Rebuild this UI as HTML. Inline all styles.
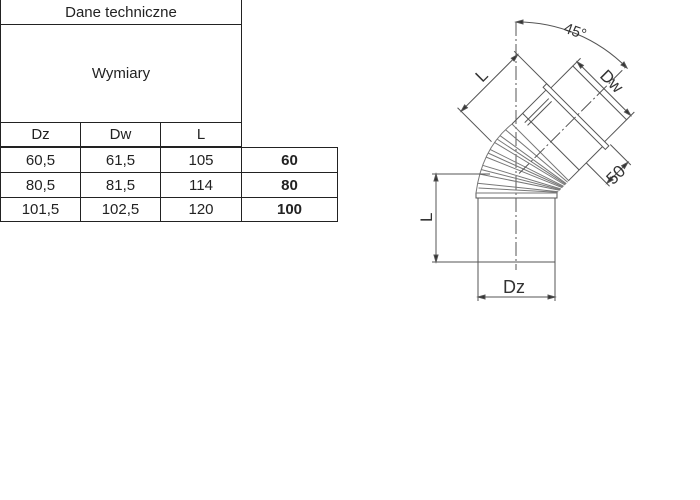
<!DOCTYPE html>
<html><head><style>
body{margin:0;background:#fff;width:700px;height:500px;overflow:hidden;position:relative;font-family:"Liberation Sans",Calibri,sans-serif}
.c{position:absolute;border:1px solid #222;box-sizing:border-box;display:flex;align-items:center;justify-content:center;font-size:15px;color:#222}
</style></head><body>
<div class="c" style="left:0;top:0;width:242px;height:25px;border-top:none">Dane techniczne</div>
<div class="c" style="left:0;top:24px;width:242px;height:99px">Wymiary</div>
<div class="c" style="left:0;top:122px;width:81px;height:25px">Dz</div>
<div class="c" style="left:80px;top:122px;width:81px;height:25px">Dw</div>
<div class="c" style="left:160px;top:122px;width:82px;height:25px">L</div>
<div class="c" style="left:0;top:147px;width:81px;height:26px">60,5</div>
<div class="c" style="left:80px;top:147px;width:81px;height:26px">61,5</div>
<div class="c" style="left:160px;top:147px;width:82px;height:26px">105</div>
<div class="c" style="left:0;top:172px;width:81px;height:26px">80,5</div>
<div class="c" style="left:80px;top:172px;width:81px;height:26px">81,5</div>
<div class="c" style="left:160px;top:172px;width:82px;height:26px">114</div>
<div class="c" style="left:0;top:197px;width:81px;height:25px">101,5</div>
<div class="c" style="left:80px;top:197px;width:81px;height:25px">102,5</div>
<div class="c" style="left:160px;top:197px;width:82px;height:25px">120</div>
<div class="c" style="left:241px;top:147px;width:97px;height:26px;font-weight:bold">60</div>
<div class="c" style="left:241px;top:172px;width:97px;height:26px;font-weight:bold">80</div>
<div class="c" style="left:241px;top:197px;width:97px;height:25px;font-weight:bold">100</div>

<svg width="700" height="500" style="position:absolute;left:0;top:0" fill="none" stroke="#555" stroke-width="1">
<line x1="516" y1="22" x2="516" y2="270" stroke-dasharray="14,3,2,3"/>
<path d="M516,22 A154,154 0 0 1 627,68"/>
<path d="M516,22 l7,-2 l0,4z M627,68 l-3,-6 l-3,3z" fill="#333"/>
<text x="564" y="35" font-size="15" fill="#333" stroke="none" transform="rotate(20 572 30)">45°</text>
<rect x="478" y="198" width="77" height="64"/>
<rect x="476" y="193" width="81" height="5"/>
<g stroke="#777">
<path d="M476,193 Q482,148 512,124"/>
<line x1="476" y1="193" x2="557" y2="193"/>
<line x1="477.4" y1="183.2" x2="558.3" y2="191.7"/>
<line x1="479.9" y1="174.1" x2="559.7" y2="190.3"/>
<line x1="482.6" y1="165.3" x2="561" y2="189"/>
<line x1="486.2" y1="157.1" x2="562.3" y2="187.7"/>
<line x1="490.1" y1="149.4" x2="563.7" y2="186.3"/>
<line x1="494.1" y1="142.2" x2="565" y2="185"/>
<line x1="500.1" y1="135.7" x2="566.3" y2="183.7"/>
<line x1="505.4" y1="129.6" x2="567.7" y2="182.3"/>
<line x1="478.5" y1="188" x2="557.6" y2="192.3"/>
<line x1="481" y1="169.5" x2="560.3" y2="189.6"/>
<line x1="488" y1="153" x2="563" y2="187"/>
<line x1="497" y1="139" x2="565.7" y2="184.3"/>
<line x1="512" y1="124" x2="569" y2="181"/>
</g>
<g transform="translate(512,124) rotate(45)">
<line x1="0" y1="0" x2="0" y2="-48"/>
<line x1="80" y1="0" x2="80" y2="-48"/>
<line x1="0" y1="-15" x2="80" y2="-15"/>
<line x1="8" y1="-10" x2="8" y2="-44"/>
<line x1="12" y1="-10" x2="12" y2="-44"/>
<rect x="-4" y="-53" width="88" height="5"/>
<path d="M2,-53 L2,-84 L78,-84 L78,-53"/>
<line x1="40" y1="30" x2="40" y2="-121" stroke-dasharray="14,3,2,3"/>
<line x1="2" y1="-84" x2="2" y2="-95"/>
<line x1="78" y1="-84" x2="78" y2="-95"/>
<line x1="2" y1="-90" x2="78" y2="-90"/>
<path d="M2,-90 l7,-2 l0,4z M78,-90 l-7,-2 l0,4z" fill="#333"/>
<text x="28" y="-95" font-size="17" fill="#333" stroke="none">Dw</text>
<line x1="84" y1="-55" x2="113" y2="-55"/>
<line x1="80" y1="-25" x2="113" y2="-25"/>
<line x1="109" y1="-55" x2="109" y2="-25"/>
<path d="M109,-55 l-2,7 l4,0z M109,-25 l-2,-7 l4,0z" fill="#333"/>
<text x="115" y="-28" font-size="17" fill="#333" stroke="none" transform="rotate(-90 115 -28)">50</text>
<line x1="0" y1="-53" x2="-50" y2="-53"/>
<line x1="-2" y1="27" x2="-50" y2="27"/>
<line x1="-45" y1="27" x2="-45" y2="-53"/>
<path d="M-45,27 l-2,-7 l4,0z M-45,-53 l-2,7 l4,0z" fill="#333"/>
<text x="-50" y="-8" font-size="17" fill="#333" stroke="none" transform="rotate(-90 -50 -8)">L</text>
</g>
<line x1="432" y1="174" x2="490" y2="174"/>
<line x1="432" y1="262" x2="555" y2="262"/>
<line x1="436" y1="174" x2="436" y2="262"/>
<path d="M436,174 l-2,7 l4,0z M436,262 l-2,-7 l4,0z" fill="#333"/>
<text x="432" y="222" font-size="17" fill="#333" stroke="none" transform="rotate(-90 432 222)">L</text>
<line x1="478" y1="262" x2="478" y2="301"/>
<line x1="555" y1="262" x2="555" y2="301"/>
<line x1="478" y1="297" x2="555" y2="297"/>
<path d="M478,297 l7,-2 l0,4z M555,297 l-7,-2 l0,4z" fill="#333"/>
<text x="503" y="293" font-size="18" fill="#333" stroke="none">Dz</text>
</svg>
</body></html>
